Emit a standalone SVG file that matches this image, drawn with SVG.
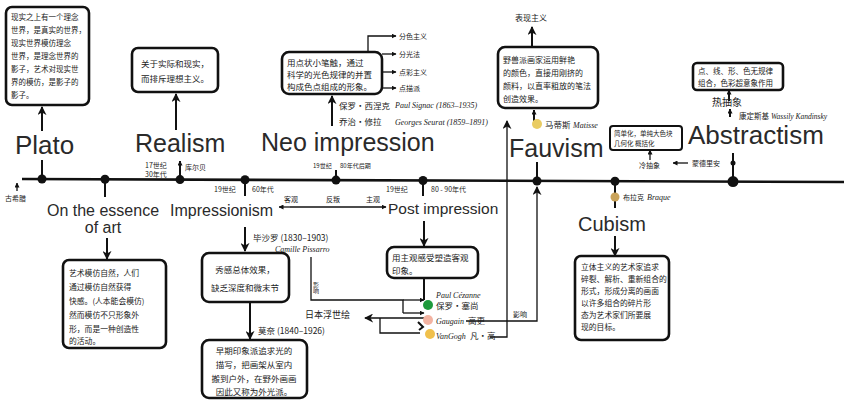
<svg xmlns="http://www.w3.org/2000/svg" width="844" height="403" viewBox="0 0 844 403">
<style>
.bg{fill:#fff}
.ln{stroke:#111;stroke-width:2;fill:none}
.tl{stroke:#111;stroke-width:2.6;fill:none}
.thin{stroke:#111;stroke-width:1.3;fill:none}
.box{fill:#fff;stroke:#111;stroke-width:2.6}
.dot{fill:#111}
.big{font-family:"Liberation Sans","DejaVu Sans",sans-serif;fill:#2a2a2a}
.cn{font-family:"Noto Sans CJK SC",sans-serif;font-size:8.5px;fill:#222}
.sm{font-family:"Noto Sans CJK SC",sans-serif;font-size:7px;fill:#222}
.en{font-family:"Liberation Serif","Noto Sans CJK SC",serif;font-style:italic;font-size:8px;fill:#222}
.f75{font-size:7.5px}
.f78{font-size:7.8px}
.f8{font-size:8px}
.f6{font-size:6px}
.f65{font-size:6.5px}
.f9{font-size:9px}
.f10{font-size:10px}
</style>
<defs>
<marker id="ah" viewBox="0 0 10 10" refX="9" refY="5" markerWidth="5" markerHeight="5" orient="auto-start-reverse" markerUnits="userSpaceOnUse">
<path d="M0,0 L10,5 L0,10 z" fill="#111"/>
</marker>
<marker id="ahb" viewBox="0 0 10 10" refX="9" refY="5" markerWidth="9" markerHeight="9" orient="auto-start-reverse" markerUnits="userSpaceOnUse">
<path d="M0,0 L10,5 L0,10 L3,5 z" fill="#111"/>
</marker>
</defs>
<rect class="bg" x="0" y="0" width="844" height="403"/>

<g id="connectors">
<path class="tl" d="M22,179 L844,182"/>
<line class="thin" x1="17" y1="191" x2="17" y2="183" marker-end="url(#ah)"/>
<line class="ln" x1="42" y1="179" x2="42" y2="160"/>
<line class="ln" x1="42" y1="131" x2="42" y2="107" marker-end="url(#ahb)"/>
<line class="ln" x1="105" y1="179" x2="105" y2="197"/>
<line class="ln" x1="107" y1="238" x2="107" y2="259" marker-end="url(#ahb)"/>
<line class="ln" x1="180" y1="180" x2="180" y2="161" marker-end="url(#ah)"/>
<line class="ln" x1="176" y1="130" x2="176" y2="94" marker-end="url(#ahb)"/>
<line class="ln" x1="245" y1="180" x2="245" y2="196"/>
<line class="thin" x1="290" y1="207" x2="279" y2="207" marker-end="url(#ah)"/>
<line class="thin" x1="290" y1="207" x2="386" y2="207" marker-end="url(#ah)"/>
<line class="ln" x1="245" y1="227" x2="245" y2="251" marker-end="url(#ahb)"/>
<line class="ln" x1="250" y1="302" x2="250" y2="339" marker-end="url(#ahb)"/>
<path class="thin" d="M311,257 L311,300 L403,300 L403,313"/>
<line class="thin" x1="403" y1="300" x2="424" y2="300" marker-end="url(#ah)"/>
<line class="thin" x1="403" y1="313" x2="424" y2="313" marker-end="url(#ah)"/>
<line class="ln" x1="336" y1="180" x2="336" y2="170"/>
<line class="ln" x1="332" y1="126" x2="332" y2="96" marker-end="url(#ahb)"/>
<path class="thin" d="M368,52 L368,36 L396,36" marker-end="url(#ah)"/>
<line class="thin" x1="382" y1="54" x2="396" y2="54" marker-end="url(#ah)"/>
<line class="thin" x1="382" y1="72" x2="396" y2="72" marker-end="url(#ah)"/>
<line class="thin" x1="382" y1="88" x2="396" y2="88" marker-end="url(#ah)"/>
<line class="ln" x1="423" y1="180" x2="423" y2="196"/>
<line class="ln" x1="424" y1="221" x2="424" y2="246" marker-end="url(#ahb)"/>
<line class="ln" x1="424" y1="278" x2="424" y2="300"/>
<line class="thin" x1="424" y1="318" x2="365" y2="318" marker-end="url(#ahb)"/>
<path class="thin" d="M380,318 L380,333 L420,333"/>
<path class="thin" d="M466,321 L537,321 L537,187" marker-end="url(#ahb)"/>
<path class="thin" d="M490,337 L507,337 L507,121" marker-end="url(#ahb)"/>
<line class="ln" x1="537" y1="181" x2="537" y2="162"/>
<line class="ln" x1="534" y1="121" x2="534" y2="110" marker-end="url(#ah)"/>
<line class="ln" x1="532" y1="46" x2="532" y2="27" marker-end="url(#ahb)"/>
<line class="ln" x1="615" y1="181" x2="615" y2="208"/>
<line class="ln" x1="615" y1="236" x2="615" y2="256" marker-end="url(#ahb)"/>
<line class="ln" x1="733" y1="182" x2="733" y2="153"/>
<line class="ln" x1="729" y1="101" x2="729" y2="90" marker-end="url(#ah)"/>
<line class="ln" x1="730" y1="117" x2="730" y2="109" marker-end="url(#ah)"/>
<line class="thin" x1="650" y1="160" x2="650" y2="150" marker-end="url(#ah)"/>
<line class="thin" x1="688" y1="163" x2="673" y2="163" marker-end="url(#ah)"/>
</g>

<g id="timeline-dots">
<circle class="dot" cx="42" cy="179" r="4.5"/>
<circle class="dot" cx="105" cy="179.3" r="4.5"/>
<circle class="dot" cx="180" cy="179.6" r="4.5"/>
<circle class="dot" cx="245" cy="179.8" r="4.5"/>
<circle class="dot" cx="336" cy="180.1" r="4.5"/>
<circle class="dot" cx="423" cy="180.5" r="4.5"/>
<circle class="dot" cx="537" cy="181" r="4.5"/>
<circle class="dot" cx="615" cy="181.2" r="4.5"/>
<circle class="dot" cx="733" cy="181.6" r="5.5"/>
<circle class="dot" cx="733" cy="163" r="2.5"/>
<text class="sm" x="5" y="201">古希腊</text>
</g>

<g id="plato">
<rect class="box" x="6" y="7" width="83" height="98" rx="6"/>
<text class="cn f75" x="11" y="20">现实之上有一个理念</text>
<text class="cn f75" x="11" y="33">世界，是真实的世界，</text>
<text class="cn f75" x="11" y="46">现实世界模仿理念</text>
<text class="cn f75" x="11" y="59">世界，是理念世界的</text>
<text class="cn f75" x="11" y="72">影子，艺术对现实世</text>
<text class="cn f75" x="11" y="85">界的模仿，是影子的</text>
<text class="cn f75" x="11" y="98">影子。</text>
<text class="big" x="15" y="154" font-size="26">Plato</text>
</g>

<g id="essence">
<text class="big" x="103" y="216" font-size="16" text-anchor="middle">On the essence</text>
<text class="big" x="103" y="233" font-size="16" text-anchor="middle">of art</text>
<rect class="box" x="63" y="260" width="103" height="88" rx="6"/>
<text class="cn f78" x="69" y="276">艺术模仿自然，人们</text>
<text class="cn f78" x="69" y="290">通过模仿自然获得</text>
<text class="cn f78" x="69" y="304">快感。(人本能会模仿)</text>
<text class="cn f78" x="69" y="318">然而模仿不只形象外</text>
<text class="cn f78" x="69" y="332">形，而是一种创造性</text>
<text class="cn f78" x="69" y="344">的活动。</text>
</g>

<g id="realism">
<rect class="box" x="132" y="48" width="86" height="44" rx="6"/>
<text class="cn" x="175" y="67" text-anchor="middle">关于实际和现实，</text>
<text class="cn" x="175" y="82" text-anchor="middle">而排斥理想主义。</text>
<text class="big" x="135" y="152" font-size="25">Realism</text>
<text class="sm" x="145" y="168">17世纪</text>
<text class="sm" x="145" y="177">30年代</text>
<text class="sm" x="185" y="170">库尔贝</text>
</g>

<g id="impressionism">
<text class="big" x="170" y="216" font-size="16">Impressionism</text>
<text class="sm" x="214" y="192">19世纪</text>
<text class="sm" x="252" y="192">60年代</text>
<text class="sm" x="284" y="202">客观</text>
<text class="sm" x="326" y="202">反叛</text>
<text class="sm" x="366" y="202">主观</text>
<text class="cn" x="253" y="241">毕沙罗 (1830–1903)</text>
<text class="en" x="275" y="252">Camille Pissarro</text>
<rect class="box" x="202" y="253" width="87" height="49" rx="7"/>
<text class="cn" x="245" y="273" text-anchor="middle">秀感总体效果，</text>
<text class="cn" x="245" y="291" text-anchor="middle">缺乏深度和微末节</text>
<text class="cn" x="258" y="334">莫奈 (1840–1926)</text>
<rect class="box" x="202" y="340" width="105" height="58" rx="7"/>
<text class="cn" x="254" y="354" text-anchor="middle">早期印象派追求光的</text>
<text class="cn" x="254" y="368" text-anchor="middle">描写，把画架从室内</text>
<text class="cn" x="254" y="382" text-anchor="middle">搬到户外，在野外画画</text>
<text class="cn" x="254" y="395" text-anchor="middle">因此又称为外光派。</text>
<text class="sm f6" x="316" y="282" writing-mode="vertical-rl">影响</text>
<text class="cn f9" x="305" y="318">日本浮世绘</text>
</g>

<g id="neo-impression">
<rect class="box" x="282" y="52" width="100" height="42" rx="7"/>
<text class="cn" x="287" y="66">用点状小笔触，通过</text>
<text class="cn" x="287" y="78">科学的光色规律的并置</text>
<text class="cn" x="287" y="90">构成色点组成的形象。</text>
<text class="sm" x="399" y="39">分色主义</text>
<text class="sm" x="399" y="57">分光法</text>
<text class="sm" x="399" y="75">点彩主义</text>
<text class="sm" x="399" y="91">点描派</text>
<text class="cn" x="339" y="109">保罗·西涅克</text>
<text class="en" x="395" y="108">Paul Signac (1863–1935)</text>
<text class="cn" x="339" y="125">乔治·修拉</text>
<text class="en" x="395" y="125">Georges Seurat (1859–1891)</text>
<text class="big" x="261" y="151" font-size="25">Neo impression</text>
<text class="sm f6" x="313" y="168">19世纪</text>
<text class="sm f6" x="340" y="168">80年代后期</text>
</g>

<g id="post-impression">
<text class="big" x="388" y="214" font-size="15.5">Post impression</text>
<text class="sm" x="386" y="192">19世纪</text>
<text class="sm" x="431" y="192">80 - 90年代</text>
<rect class="box" x="387" y="247" width="91" height="31" rx="7"/>
<text class="cn" x="392" y="261">用主观感受塑造客观</text>
<text class="cn" x="392" y="274">印象。</text>
<circle cx="428" cy="305" r="5" fill="#1e9a3c"/>
<circle cx="428" cy="320" r="5" fill="#f3b3a2"/>
<circle cx="430" cy="334" r="5" fill="#f0c04c"/>
<path d="M418,322 L423,327 L419,330" class="ln"/>
<text class="en" x="436" y="298">Paul Cézanne</text>
<text class="cn" x="436" y="309">保罗·塞尚</text>
<text class="en" x="436" y="324">Gaugain</text>
<text class="cn" x="468" y="324">高更</text>
<text class="en" x="436" y="339">VanGogh</text>
<text class="cn" x="470" y="339">凡·高</text>
<text class="sm" x="513" y="317">影响</text>
</g>

<g id="fauvism">
<text class="sm f8" x="515" y="21">表现主义</text>
<rect class="box" x="498" y="47" width="100" height="61" rx="7"/>
<text class="cn f8" x="503" y="63">野兽派画家运用鲜艳</text>
<text class="cn f8" x="503" y="76">的颜色，直接用刚挤的</text>
<text class="cn f8" x="503" y="89">颜料，以直率粗放的笔法</text>
<text class="cn f8" x="503" y="102">创造效果。</text>
<circle cx="537" cy="124" r="5" fill="#e9cc63"/>
<text class="cn" x="545" y="128">马蒂斯</text>
<text class="en" x="573" y="128">Matisse</text>
<text class="big" x="509" y="157" font-size="25">Fauvism</text>
</g>

<g id="cubism">
<circle cx="615" cy="197" r="4.5" fill="#c9a35a"/>
<text class="sm" x="623" y="200">布拉克</text>
<text class="en" x="647" y="200">Braque</text>
<text class="big" x="578" y="231" font-size="20">Cubism</text>
<rect class="box" x="575" y="256" width="94" height="84" rx="6"/>
<text class="sm f78" x="581" y="270">立体主义的艺术家追求</text>
<text class="sm f78" x="581" y="282">碎裂、解析、重新组合的</text>
<text class="sm f78" x="581" y="294">形式，形成分离的画面</text>
<text class="sm f78" x="581" y="306">以许多组合的碎片形</text>
<text class="sm f78" x="581" y="318">态为艺术家们所要展</text>
<text class="sm f78" x="581" y="330">现的目标。</text>
</g>

<g id="abstractism">
<rect class="box" x="693" y="63" width="90" height="27" rx="4"/>
<text class="sm f75" x="698" y="74">点、线、形、色无规律</text>
<text class="sm f75" x="698" y="86">组合，色彩超意象作用</text>
<text class="cn f10" x="712" y="106">热抽象</text>
<text class="cn f75" x="739" y="119">康定斯基</text>
<text class="en f75" x="771" y="119">Wassily Kandinsky</text>
<text class="big" x="688" y="144" font-size="26">Abstractism</text>
<rect class="box" x="610" y="126" width="72" height="24" rx="3" style="stroke-width:2"/>
<text class="sm f65" x="614" y="136">简单化，单纯大色块</text>
<text class="sm f65" x="614" y="146">几何化 概括化</text>
<text class="sm" x="639" y="168">冷抽象</text>
<text class="sm" x="692" y="166">蒙德里安</text>
</g>
</svg>
